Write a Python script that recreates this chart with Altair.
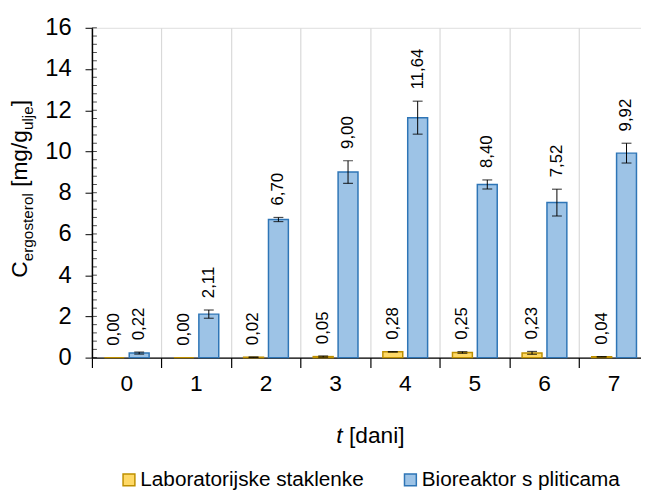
import altair as alt
import pandas as pd

days = ["0", "1", "2", "3", "4", "5", "6", "7"]
series_names = ["Laboratorijske staklenke", "Bioreaktor s pliticama"]
lab_values = [0.00, 0.00, 0.02, 0.05, 0.28, 0.25, 0.23, 0.04]
lab_errors = [0.00, 0.00, 0.01, 0.03, 0.01, 0.04, 0.07, 0.01]
bio_values = [0.22, 2.11, 6.70, 9.00, 11.64, 8.40, 7.52, 9.92]
bio_errors = [0.05, 0.20, 0.10, 0.55, 0.80, 0.22, 0.65, 0.48]
y_ticks = [0, 2, 4, 6, 8, 10, 12, 14, 16]
y_minor = [round(i * 0.4, 1) for i in range(41)]

fill_colors = ["#FFD966", "#9DC3E6"]
stroke_colors = ["#BF9000", "#2E75B6"]
FONT = "Liberation Sans"

rows = []
for name, vals, errs in [(series_names[0], lab_values, lab_errors),
                         (series_names[1], bio_values, bio_errors)]:
    for d, v, e in zip(days, vals, errs):
        rows.append({"day": d, "series": name, "value": v, "err": e,
                     "lo": v - e, "hi": v + e,
                     "label": f"{v:.2f}".replace(".", ",")})
df = pd.DataFrame(rows)

W = 556
H = 334
FULL = 564  # 8 categories of 70.5px; the last edge falls past the picture

xscale = alt.Scale(domain=days, range=[0, FULL], paddingInner=0, paddingOuter=0)
xoff = alt.XOffset("series:N", sort=series_names,
                   scale=alt.Scale(domain=series_names, paddingInner=0.2, paddingOuter=0.5))
yscale = alt.Scale(domain=[0, 16], nice=False, zero=True)

color_scale = alt.Scale(domain=series_names, range=fill_colors)
stroke_scale = alt.Scale(domain=series_names, range=stroke_colors)

base = alt.Chart(df)

bars = base.mark_bar(strokeWidth=1.5).encode(
    x=alt.X("day:N", scale=xscale, sort=days,
            axis=alt.Axis(title=None, ticks=False, grid=False, domain=True,
                          domainColor="#000000", domainWidth=1.5,
                          labelFontSize=23, labelFont=FONT, labelColor="#000000",
                          labelPadding=15, labelAngle=0)),
    xOffset=xoff,
    y=alt.Y("value:Q", scale=yscale,
            axis=alt.Axis(title=None, values=y_ticks, tickSize=7, tickColor="#000000",
                          domainColor="#000000", domainWidth=1.5, grid=False,
                          labelFontSize=24, labelFont=FONT, labelColor="#000000",
                          labelPadding=14)),
    fill=alt.Fill("series:N", scale=color_scale, sort=series_names,
                  legend=alt.Legend(title=None, orient="none", legendX=27, legendY=447,
                                    direction="horizontal", symbolType="square",
                                    symbolSize=144, symbolStrokeWidth=1.5,
                                    labelFontSize=21, labelFont=FONT, labelColor="#000000",
                                    labelOffset=1, labelLimit=0, columnPadding=36,
                                    padding=0)),
    stroke=alt.Stroke("series:N", scale=stroke_scale, sort=series_names, legend=None),
)

grid_axis_layer = base.mark_rule(color="#000000", strokeWidth=1).encode(
    x=alt.X("day:N", scale=xscale, sort=days,
            axis=alt.Axis(title=None, orient="bottom", bandPosition=0, labels=False,
                          domain=False, ticks=True, tickSize=10, tickColor="#000000",
                          tickWidth=1.2, grid=True, gridColor="#D9D9D9", gridWidth=1.2)),
    xOffset=xoff,
    y=alt.Y("lo:Q", scale=yscale, axis=None),
    y2="hi:Q",
).transform_filter("datum.err > 0")

cap_hi = base.mark_tick(color="#000000", size=10, thickness=1.2).encode(
    x=alt.X("day:N", scale=xscale, sort=days, axis=None),
    xOffset=xoff,
    y=alt.Y("hi:Q", scale=yscale, axis=None),
).transform_filter("datum.err > 0")

cap_lo = base.mark_tick(color="#000000", size=10, thickness=1.2).encode(
    x=alt.X("day:N", scale=xscale, sort=days, axis=None),
    xOffset=xoff,
    y=alt.Y("lo:Q", scale=yscale, axis=None),
).transform_filter("datum.err > 0")

labels = base.mark_text(angle=270, align="left", baseline="middle", dx=12,
                        fontSize=17, font=FONT, color="#000000").encode(
    x=alt.X("day:N", scale=xscale, sort=days, axis=None),
    xOffset=xoff,
    y=alt.Y("hi:Q", scale=yscale, axis=None),
    text="label:N",
)

# minor ticks on the inner side of the y axis
minor = alt.Chart(pd.DataFrame({"m": y_minor})).mark_tick(
    color="#000000", size=5, thickness=1, orient="horizontal").encode(
    x=alt.value(2.5),
    y=alt.Y("m:Q", scale=yscale, axis=None),
)

# --- axis titles built from pieces (subscripts / italic) ---
AW = {"C": .722, "e": .556, "r": .333, "g": .556, "o": .556, "s": .5, "t": .278,
      "l": .222, " ": .278, "[": .278, "]": .278, "m": .833, "/": .278,
      "u": .556, "j": .222, "d": .556, "a": .556, "n": .556, "i": .222}


def tw(s, size):
    return sum(AW[c] for c in s) * size


MAIN, SUB = 23, 15.5
# (text, font size, baseline shift, leading gap in px)
ytitle_parts = [("C", MAIN, 0, 0), ("ergosterol", SUB, 6, 0), ("[mg/g", MAIN, 0, tw(" ", MAIN)),
                ("ulje", SUB, 6, 0), ("]", MAIN, 0, 0)]
title_layers = []
ypos = 253.0
for txt, size, shift, gap in ytitle_parts:
    ypos -= gap
    title_layers.append(
        alt.Chart(pd.DataFrame({"t": [txt]})).mark_text(
            angle=270, align="left", baseline="alphabetic", fontSize=size,
            font=FONT, color="#000000").encode(
            text="t:N", x=alt.value(-66 + shift), y=alt.value(ypos)))
    ypos -= tw(txt, size)

xt_parts = [("t", True, 0), ("[dani]", False, tw(" ", MAIN))]
total = tw("t [dani]", MAIN)
xpos = 282 - total / 2
for txt, ital, gap in xt_parts:
    xpos += gap
    title_layers.append(
        alt.Chart(pd.DataFrame({"t": [txt]})).mark_text(
            align="left", baseline="alphabetic", fontSize=MAIN, font=FONT,
            fontStyle="italic" if ital else "normal", color="#000000").encode(
            text="t:N", x=alt.value(xpos), y=alt.value(420)))
    xpos += tw(txt, MAIN)

chart = alt.layer(bars, grid_axis_layer, cap_hi, cap_lo, labels, minor,
                  *title_layers).resolve_axis(
    x="independent", y="independent"
).properties(
    width=W, height=H,
    autosize=alt.AutoSizeParams(type="none"),
    padding={"left": 85, "top": 17, "right": 0, "bottom": 131},
).configure_view(stroke=None).configure(background="#FFFFFF")

chart.save("out.html", embed_options={"renderer": "svg", "actions": False})
